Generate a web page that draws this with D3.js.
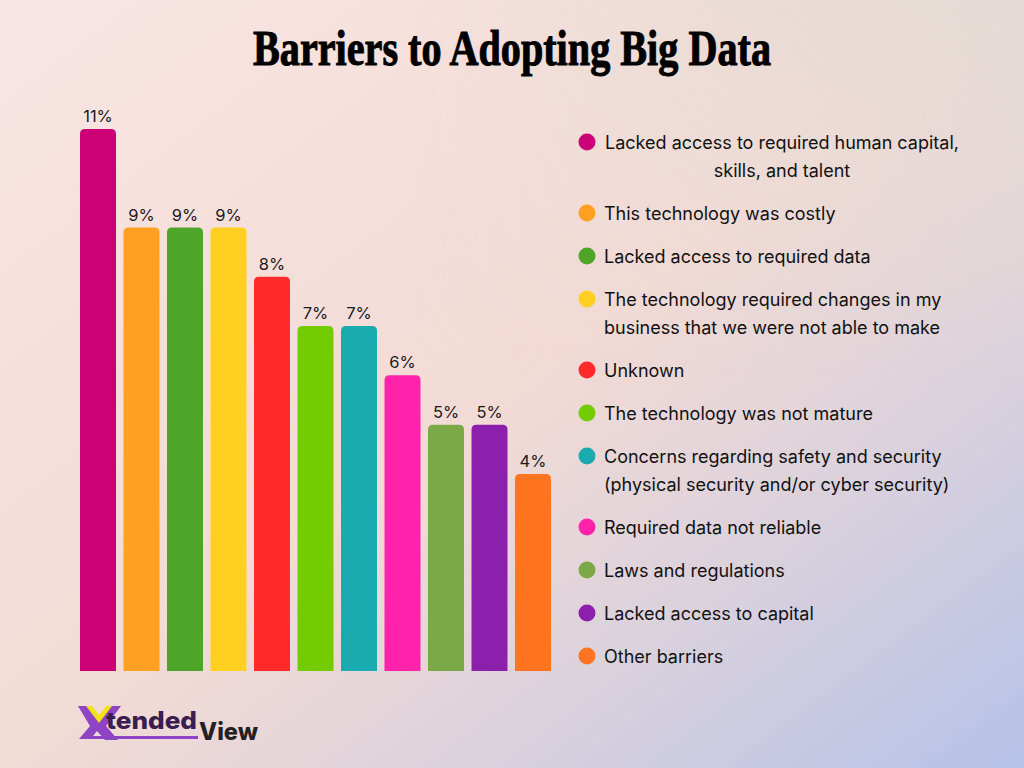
<!DOCTYPE html>
<meta charset="utf-8">
<script src="https://d3js.org/d3.v7.min.js"></script>
<style>
  body { margin: 0; }
  svg { display: block; }
</style>
<div id="chart"></div>
<script>
    const categories = [
        "Lacked access to required human capital, skills, and talent",
        "This technology was costly",
        "Lacked access to required data",
        "The technology required changes in my business that we were not able to make",
        "Unknown",
        "The technology was not mature",
        "Concerns regarding safety and security (physical security and/or cyber security)",
        "Required data not reliable",
        "Laws and regulations",
        "Lacked access to capital",
        "Other barriers"
    ];
    const values = [11, 9, 9, 9, 8, 7, 7, 6, 5, 5, 4];
    const colors = ["#cc0077", "#ffa023", "#4ea52a", "#ffd021", "#ff2a2a", "#72cc00",
        "#1aabb0", "#ff22aa", "#7ba947", "#8d1fad", "#ff7420"];
    const legendLines = [
        ["Lacked access to required human capital,", "skills, and talent"],
        ["This technology was costly"],
        ["Lacked access to required data"],
        ["The technology required changes in my", "business that we were not able to make"],
        ["Unknown"],
        ["The technology was not mature"],
        ["Concerns regarding safety and security", "(physical security and/or cyber security)"],
        ["Required data not reliable"],
        ["Laws and regulations"],
        ["Lacked access to capital"],
        ["Other barriers"]
    ];

    const width = 1024, height = 768;
    const svg = d3.select("#chart")
        .append("svg")
            .attr("width", width)
            .attr("height", height);

    // background gradient
    const defs = svg.append("defs");
    const grad = defs.append("linearGradient")
        .attr("id", "bg")
        .attr("x1", "0").attr("y1", "0").attr("x2", "1").attr("y2", "1");
    grad.append("stop").attr("offset", "0%").attr("stop-color", "#f8e5e3");
    grad.append("stop").attr("offset", "50%").attr("stop-color", "#f3dbd5");
    grad.append("stop").attr("offset", "72%").attr("stop-color", "#dcd2dc");
    grad.append("stop").attr("offset", "100%").attr("stop-color", "#b6c2e8");
    svg.append("rect").attr("width", width).attr("height", height).attr("fill", "url(#bg)");
    const grad2 = defs.append("linearGradient")
        .attr("id", "bg2")
        .attr("x1", "0").attr("y1", "0").attr("x2", "1").attr("y2", "0");
    grad2.append("stop").attr("offset", "40%").attr("stop-color", "#e2dad5").attr("stop-opacity", 0);
    grad2.append("stop").attr("offset", "100%").attr("stop-color", "#e2dad5").attr("stop-opacity", 0.9);
    const fadeTop = defs.append("linearGradient")
        .attr("id", "fadeTop")
        .attr("x1", "0").attr("y1", "0").attr("x2", "0").attr("y2", "1");
    fadeTop.append("stop").attr("offset", "0%").attr("stop-color", "white").attr("stop-opacity", 1);
    fadeTop.append("stop").attr("offset", "50%").attr("stop-color", "white").attr("stop-opacity", 0);
    const mask = defs.append("mask").attr("id", "m");
    mask.append("rect").attr("width", width).attr("height", height).attr("fill", "url(#fadeTop)");
    svg.append("rect").attr("width", width).attr("height", height)
        .attr("fill", "url(#bg2)").attr("mask", "url(#m)");

    // title
    svg.append("text")
        .attr("x", 512)
        .attr("y", 65)
        .attr("text-anchor", "middle")
        .attr("textLength", 518)
        .attr("lengthAdjust", "spacingAndGlyphs")
        .style("font-family", "'Liberation Serif', 'DejaVu Serif', serif")
        .style("font-weight", "bold")
        .style("font-size", "50px")
        .style("fill", "#000")
        .style("stroke", "#000")
        .style("stroke-width", "1px")
        .text("Barriers to Adopting Big Data");

    // scales
    const x = d3.scaleBand()
        .domain(categories)
        .range([76.25, 554.75])
        .paddingInner(0.1724)
        .paddingOuter(0.0862);
    const y = d3.scaleLinear()
        .domain([0, 11])
        .range([671, 129]);

    const r = 5;
    function barPath(d, i) {
        const x0 = x(categories[i]), w = x.bandwidth();
        const y0 = y(d), y1 = y(0);
        return `M${x0},${y1}V${y0 + r}Q${x0},${y0} ${x0 + r},${y0}H${x0 + w - r}Q${x0 + w},${y0} ${x0 + w},${y0 + r}V${y1}Z`;
    }

    svg.selectAll("path.bar")
        .data(values)
        .join("path")
            .attr("class", "bar")
            .attr("d", barPath)
            .attr("fill", (d, i) => colors[i]);

    svg.selectAll("text.val")
        .data(values)
        .join("text")
            .attr("class", "val")
            .attr("x", (d, i) => x(categories[i]) + x.bandwidth() / 2)
            .attr("y", d => y(d) - 7)
            .attr("text-anchor", "middle")
            .style("font-family", "Inter, 'Noto Sans', sans-serif")
            .style("font-size", "16.5px")
            .style("fill", "#1a1a1a")
            .text(d => d + "%");

    // legend
    let ly = 142;
    const legend = svg.append("g");
    legendLines.forEach((lines, i) => {
        legend.append("circle")
            .attr("cx", 587)
            .attr("cy", ly)
            .attr("r", 8.5)
            .attr("fill", colors[i]);
        const centered = i === 0;
        lines.forEach((t, j) => {
            legend.append("text")
                .attr("x", centered ? 782 : 604)
                .attr("y", ly + 6.5 + j * 28)
                .attr("text-anchor", centered ? "middle" : "start")
                .style("font-family", "Inter, 'Noto Sans', sans-serif")
                .style("font-size", "18px")
                .style("fill", "#111")
                .text(t);
        });
        ly += 43 + 28 * (lines.length - 1);
    });

    // logo
    const logo = svg.append("g");
    logo.append("path")
        .attr("d", "M78,706 L91,706 L100,719 L110,706 L121,706 L106,726 L118,740 L105,740 L97,731 L93,736 L198,736 L198,739 L79,739 L90,726 Z")
        .attr("fill", "#8e44c4");
    logo.append("path")
        .attr("d", "M86,706 L92,706 L99,715 L106,706 L112,706 L99,723 Z")
        .attr("fill", "#f2e21a");
    logo.append("text")
        .attr("x", 106).attr("y", 729)
        .attr("textLength", 91)
        .attr("lengthAdjust", "spacingAndGlyphs")
        .style("font-family", "Inter, 'Noto Sans', sans-serif")
        .style("font-weight", "800")
        .style("font-size", "24px")
        .style("fill", "#3b1d52")
        .text("tended");
    logo.append("text")
        .attr("x", 199).attr("y", 740)
        .attr("textLength", 59)
        .attr("lengthAdjust", "spacingAndGlyphs")
        .style("font-family", "Inter, 'Noto Sans', sans-serif")
        .style("font-weight", "800")
        .style("font-size", "24px")
        .style("fill", "#222")
        .text("View");
</script>
